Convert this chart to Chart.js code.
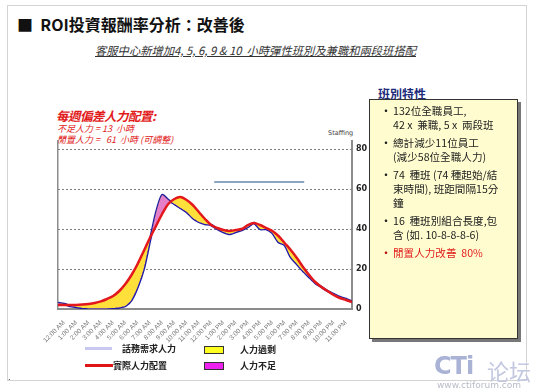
<!DOCTYPE html>
<html>
<head>
<meta charset="utf-8">
<script src="https://cdn.jsdelivr.net/npm/chart.js@4"></script>
<style>
  body { margin: 0; width: 535px; height: 391px; background: #fff; position: relative; overflow: hidden;
         font-family: "Noto Sans CJK TC", "Noto Sans", sans-serif; }
  .abs { position: absolute; white-space: nowrap; }
  #frame { position: absolute; left: 7px; top: 5px; width: 518px; height: 374px; border: 1px solid #d4d4d4; }
  #title { left: 17px; top: 12px; font: bold 16px "Noto Sans CJK TC", sans-serif; color: #111; }
  #subtitle { left: 95px; top: 42px; font: italic 11.3px "Noto Sans CJK TC", sans-serif; color: #333; text-decoration: underline; }
  #note1 { left: 56px; top: 106px; font: bold italic 12.5px "Noto Sans CJK TC", sans-serif; color: #e21a1a; letter-spacing: -0.5px; }
  #note2 { left: 57px; top: 122px; font: italic 9px "Noto Sans CJK TC", sans-serif; color: #e21a1a; }
  #note3 { left: 57px; top: 133px; font: italic 9px "Noto Sans CJK TC", sans-serif; color: #e21a1a; }
  #staffing { left: 328px; top: 129px; font: 6.5px "DejaVu Sans", sans-serif; color: #444; }
  #chartBox { position: absolute; left: 40px; top: 130px; width: 340px; height: 220px; }
  #boxHead { left: 378px; top: 85px; font: bold 12px "Noto Sans CJK TC", sans-serif; color: #1c2a7a; }
  #box { position: absolute; left: 369px; top: 99px; width: 147px; height: 238px; background: #fffdd0;
         border: 1px solid #333; box-shadow: 3px 3px 0 #777; }
  #box ul { margin: 0; padding: 0; list-style: none; }
  #box li { position: relative; padding-left: 23px; font: 10.6px/14px "Noto Sans CJK TC", sans-serif; color: #222; margin-top: 4px; }
  #box li::before { content: "•"; position: absolute; left: 10px; top: 0; font-size: 12px; color: #222; }
  #box li.hl { color: #e21a1a; }
  #box li.hl::before { color: #c01010; }
  .lg { position: absolute; font: bold 9px "Noto Sans CJK TC", sans-serif; color: #222; white-space: nowrap; }
  .wm { position: absolute; white-space: nowrap; }
</style>
</head>
<body>
<div id="frame"></div>
<div class="abs" id="title">■&nbsp;&nbsp;ROI投資報酬率分析：改善後</div>
<div class="abs" id="subtitle">客服中心新增加4, 5, 6, 9 &amp; 10&nbsp; 小時彈性班別及兼職和兩段班搭配</div>
<div class="abs" id="note1">每週偏差人力配置:</div>
<div class="abs" id="note2">不足人力 = 13&nbsp; 小時</div>
<div class="abs" id="note3">閒置人力 =&nbsp;&nbsp; 61&nbsp; 小時 (可調整)</div>
<div class="abs" id="staffing">Staffing</div>
<div id="chartBox"><canvas id="roiChart"></canvas></div>

<div class="abs" id="boxHead">班別特性</div>
<div id="box">
  <ul>
    <li>132位全職員工,<br>42 x&nbsp; 兼職, 5 x&nbsp; 兩段班</li>
    <li>總計減少11位員工<br>(減少58位全職人力)</li>
    <li>74&nbsp; 種班 (74 種起始/結<br>束時間), 班距間隔15分<br>鐘</li>
    <li>16&nbsp; 種班別組合長度,包<br>含 (如. 10-8-8-8-6)</li>
    <li class="hl">閒置人力改善&nbsp; 80%</li>
  </ul>
</div>

<div style="position:absolute;left:85px;top:347px;width:27px;height:3px;background:#c8c8f0"></div>
<div class="lg" style="left:122px;top:342px">話務需求人力</div>
<div style="position:absolute;left:85px;top:364px;width:28px;height:3px;background:#e01515"></div>
<div class="lg" style="left:113px;top:359px">實際人力配置</div>
<div style="position:absolute;left:204px;top:346px;width:18px;height:6px;background:#ffff20;border:1px solid #333"></div>
<div class="lg" style="left:240px;top:343px">人力過剩</div>
<div style="position:absolute;left:204px;top:362px;width:18px;height:6px;background:#ee22ee;border:1px solid #333"></div>
<div class="lg" style="left:240px;top:359px">人力不足</div>

<div class="wm" style="left:434px;top:352px;font:bold 24px 'DejaVu Sans',sans-serif;color:#aab3d6;letter-spacing:-1px">CTi</div>
<div class="wm" style="left:487px;top:354px;font:22px 'Noto Sans CJK SC',sans-serif;color:#c3c8e0;">论坛</div>
<div class="wm" style="left:437px;top:380px;font:9px 'DejaVu Sans',sans-serif;color:#b8bcc8;">www.ctiforum.com</div>
<div class="wm" style="left:8px;top:372px;font:9px sans-serif;color:#333;">.</div>

<script>
// hour labels on the time axis
const hourLabels = ['12:00 AM', '1:00 AM', '2:00 AM', '3:00 AM', '4:00 AM', '5:00 AM', '6:00 AM', '7:00 AM',
  '8:00 AM', '9:00 AM', '10:00 AM', '11:00 AM', '12:00 PM', '1:00 PM', '2:00 PM', '3:00 PM', '4:00 PM',
  '5:00 PM', '6:00 PM', '7:00 PM', '8:00 PM', '9:00 PM', '10:00 PM', '11:00 PM'];

// half-hour readings, 12:00 AM .. 12:00 AM next day
const demand = [3, 2.5, 1.5, 1, 0.5, 0.3, 0.2, 0.2, 0.3, 0.5, 0.8, 1.5, 4.5, 11, 20, 34, 48, 57, 54.5,
  52.5, 50.5, 48.5, 45.5, 43.5, 42.5, 42, 40, 38.5, 37.5, 38.5, 39.5, 41, 43, 40, 40, 38, 33.5, 32, 26,
  22.5, 19, 16, 13, 11, 9, 7.5, 6, 5, 3.7];
const staffing = [2, 2, 2, 2, 2.2, 2.5, 3, 3.8, 5, 6.5, 9, 12.5, 17, 22.5, 29, 35.5, 41.5, 47.5, 52.5,
  55, 56, 54.5, 52, 48.5, 45, 42, 40.5, 39.5, 39, 39.5, 40, 42, 43, 42, 40.5, 39, 36.5, 33, 29.5, 25.5,
  21, 17, 13.5, 11, 9, 7, 5.5, 4.5, 3.5];

// stray reference bar drawn in the plot
const refHours = [12.75, 20.1];
const refLevel = [63.5, 63.5];

const yTicks = [0, 20, 40, 60, 80];

const toPoints = arr => arr.map((v, i) => ({ x: i / 2, y: v }));

new Chart(document.getElementById('roiChart'), {
  type: 'line',
  data: {
    datasets: [
      {
        label: '實際人力配置',
        data: toPoints(staffing),
        borderColor: '#e3181c',
        borderWidth: 2.5,
        pointRadius: 0,
        tension: 0.3,
        fill: { target: 1, above: '#ffdf3a', below: '#e47fc8' },
      },
      {
        label: '話務需求人力',
        data: toPoints(demand),
        borderColor: '#1d1aa3',
        borderWidth: 2.5,
        pointRadius: 0,
        tension: 0.2,
        fill: false,
      },
      {
        label: 'ref',
        data: refHours.map((h, i) => ({ x: h, y: refLevel[i] })),
        borderColor: '#8aa6c2',
        borderWidth: 2,
        pointRadius: 0,
        fill: false,
      },
    ],
  },
  options: {
    responsive: true,
    maintainAspectRatio: false,
    animation: false,
    layout: { padding: { left: 18, top: 11, right: 0, bottom: 0 } },
    plugins: { legend: { display: false }, tooltip: { enabled: false } },
    scales: {
      x: {
        type: 'linear',
        min: 0,
        max: 24,
        grid: { display: false },
        border: { color: '#8c8c8c', width: 2 },
        afterBuildTicks: s => { s.ticks = hourLabels.map((_, i) => ({ value: i + 0.5 })); },
        afterFit: s => { s.height = 41; },
        ticks: {
          autoSkip: false,
          minRotation: 45,
          maxRotation: 45,
          padding: 2,
          font: { size: 6.5, family: 'Liberation Sans' },
          color: '#777',
          callback: v => hourLabels[Math.floor(v)],
        },
      },
      y: {
        position: 'right',
        min: 0,
        max: 84,
        afterBuildTicks: s => { s.ticks = yTicks.map(v => ({ value: v })); },
        afterFit: s => { s.width = 28; },
        grid: { color: '#808080', lineWidth: 1, drawTicks: false },
        border: { color: '#8c8c8c', width: 2, dash: [2, 2] },
        ticks: { padding: 4, font: { size: 8, weight: 'bold', family: 'DejaVu Sans' }, color: '#222' },
      },
      yL: {
        position: 'left',
        min: 0,
        max: 82,
        grid: { display: false },
        border: { color: '#8c8c8c', width: 1.5 },
        ticks: { display: false },
        afterFit: s => { s.width = 0; },
      },
    },
  },
});
</script>
</body>
</html>
